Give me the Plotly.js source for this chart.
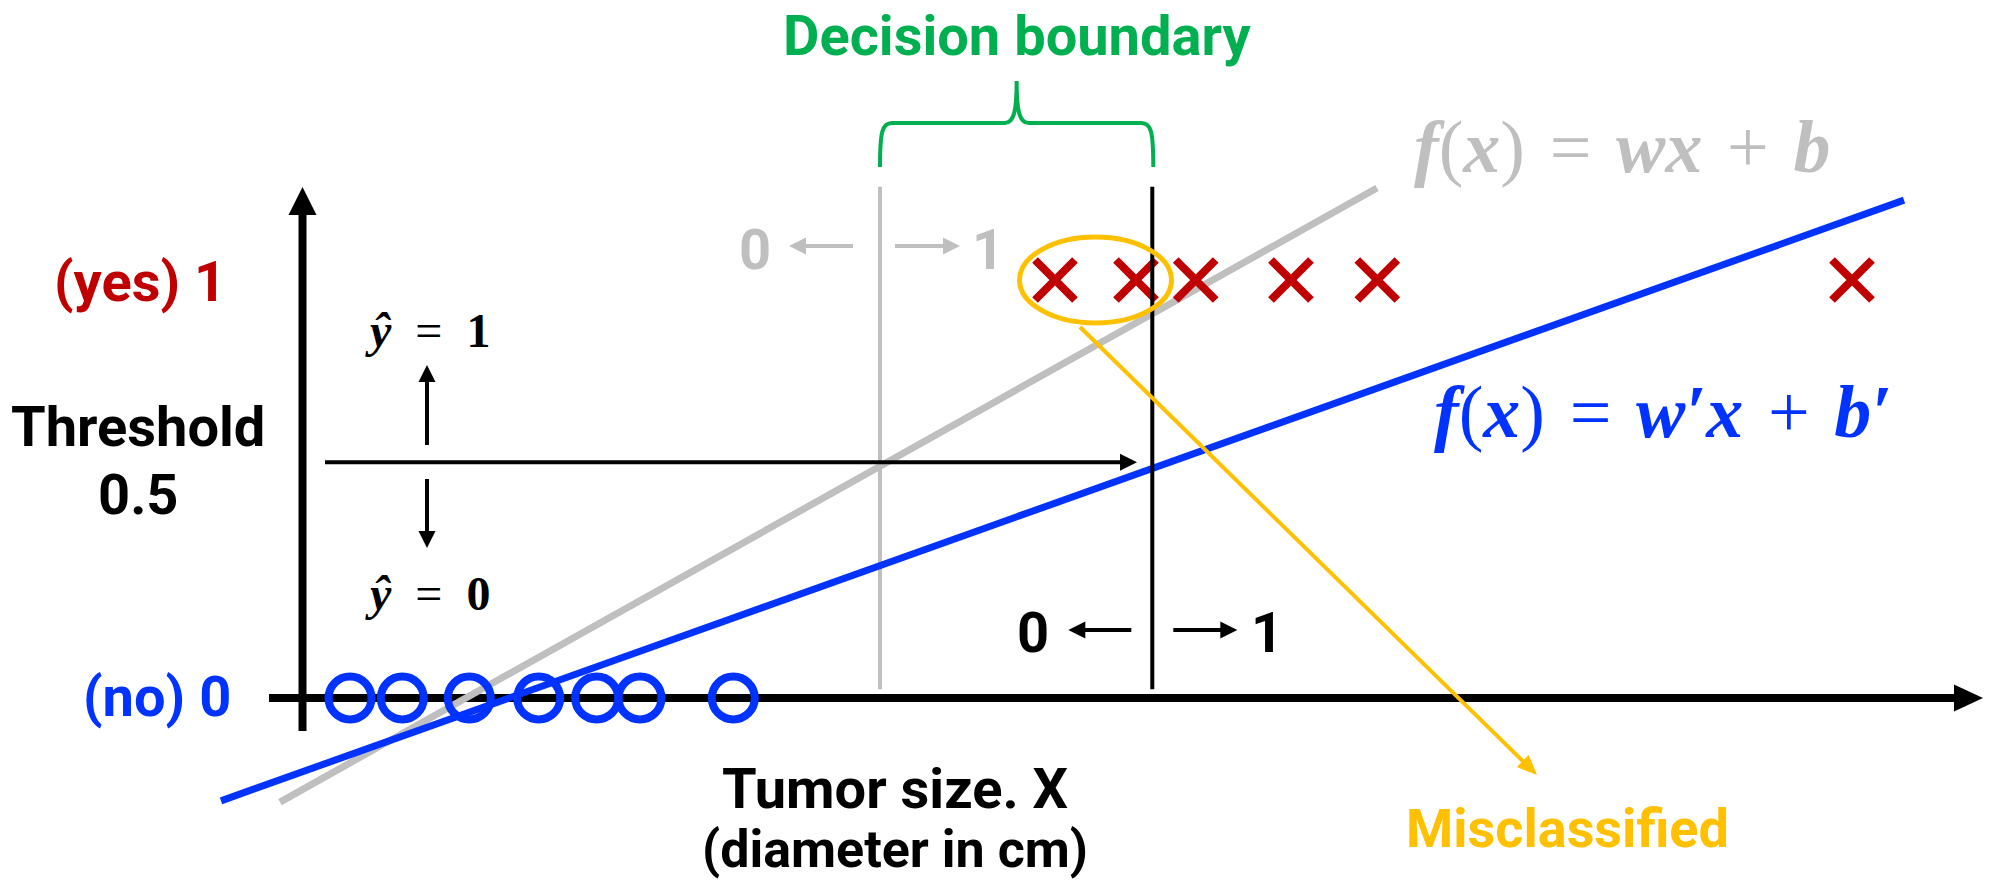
<!DOCTYPE html>
<html><head><meta charset="utf-8">
<script src="https://cdn.plot.ly/plotly-3.0.1.min.js"></script>
<style>html,body{margin:0;padding:0;background:#fff;overflow:hidden;}</style>
</head><body><div id="chart" style="width:1996px;height:881px;"></div>
<script>
// ---------------- data ----------------
const benignSize = [0.475, 0.998, 1.668, 2.362, 2.942, 3.375, 4.308];   // label 0 (no)
const benignLabel = [0, 0, 0, 0, 0, 0, 0];
const malignantSize = [7.525, 8.335, 8.932, 9.885, 10.748, 15.495];     // label 1 (yes)
const malignantLabel = [1, 1, 1, 1, 1, 1];
const fitX = [-0.225, 10.745];        // f(x) = wx + b  (gray)
const fitY = [-0.249, 1.220];
const fit2X = [-0.815, 16.015];       // f(x) = w'x + b' (blue)
const fit2Y = [-0.246, 1.191];
const threshold = 0.564;              // drawn threshold level
const boundaryX = [5.775, 8.498];     // decision boundaries: gray fit, blue fit
const boundarySpan = [0.021, 1.223];  // vertical extent of boundary lines
const misclassified = [7.525, 8.335]; // points inside the ellipse

// ---------------- helpers (pixel layout -> axis units) ----------------
const W = 1996, H = 881, X0 = 302.5, Y0 = 698, XU = 100, YU = 418;
const dx = p => (p - X0) / XU;
const dy = p => (Y0 - p) / YU;
const px = v => v * XU + X0;
const py = v => Y0 - v * YU;

const BLUE = '#0033FF', RED = '#C00000', GRAY = '#BFBFBF', GREEN = '#00B050', ORANGE = '#FFC000';

const shapes = [];
function arrow(x1, y1, x2, y2, color, width, hl, hw, layer) {
  const L = Math.hypot(x2 - x1, y2 - y1), ux = (x2 - x1) / L, uy = (y2 - y1) / L;
  const bx = x2 - ux * hl, by = y2 - uy * hl;
  shapes.push({type: 'line', layer: layer || 'above', x0: dx(x1), y0: dy(y1), x1: dx(bx + ux * 2), y1: dy(by + uy * 2),
    line: {color: color, width: width}});
  const p1 = [bx - uy * hw / 2, by + ux * hw / 2], p2 = [bx + uy * hw / 2, by - ux * hw / 2];
  shapes.push({type: 'path', layer: layer || 'above',
    path: `M${dx(x2)},${dy(y2)} L${dx(p1[0])},${dy(p1[1])} L${dx(p2[0])},${dy(p2[1])} Z`,
    fillcolor: color, line: {color: color, width: 0}});
}

// axes
arrow(X0, 731, X0, 187, '#000', 8, 28, 28, 'below');
arrow(269, Y0, 1983, Y0, '#000', 8, 29, 27, 'below');
// threshold line
arrow(325, py(threshold), 1137, py(threshold), '#000', 4, 17, 17);
arrow(427, 445, 427, 365, '#000', 4, 17, 17);
arrow(427, 479, 427, 548, '#000', 4, 17, 17);
// decision boundary vertical lines
shapes.push({type: 'line', layer: 'below', x0: boundaryX[0], x1: boundaryX[0], y0: boundarySpan[0], y1: boundarySpan[1], line: {color: GRAY, width: 4}});
shapes.push({type: 'line', layer: 'above', x0: boundaryX[1], x1: boundaryX[1], y0: boundarySpan[0], y1: boundarySpan[1], line: {color: '#000', width: 4}});
// side arrows at boundaries
const gx = px(boundaryX[0]), bxp = px(boundaryX[1]);
arrow(gx - 27, 246, gx - 91, 246, GRAY, 4, 17, 17);
arrow(gx + 15, 246, gx + 80, 246, GRAY, 4, 17, 17);
arrow(bxp - 21, 630, bxp - 84, 630, '#000', 4, 17, 17);
arrow(bxp + 21, 630, bxp + 85, 630, '#000', 4, 17, 17);
// brace
const bl = gx, br = bxp + 1, bm = (bl + br) / 2;
shapes.push({type: 'path', layer: 'above', line: {color: GREEN, width: 4},
  path: `M${dx(bl)},${dy(167)} C${dx(bl)},${dy(132)} ${dx(bl+2)},${dy(123)} ${dx(bl+12)},${dy(123)} ` +
        `L${dx(bm-12)},${dy(123)} C${dx(bm-3)},${dy(123)} ${dx(bm)},${dy(112)} ${dx(bm)},${dy(81)} ` +
        `C${dx(bm)},${dy(112)} ${dx(bm+3)},${dy(123)} ${dx(bm+12)},${dy(123)} ` +
        `L${dx(br-12)},${dy(123)} C${dx(br-2)},${dy(123)} ${dx(br)},${dy(132)} ${dx(br)},${dy(167)}`});
// misclassified ellipse + pointer
const mc = (px(misclassified[0]) + px(misclassified[1])) / 2;
shapes.push({type: 'circle', layer: 'above', x0: dx(mc - 76), x1: dx(mc + 76), y0: dy(py(1) + 43), y1: dy(py(1) - 43),
  line: {color: ORANGE, width: 5}});
arrow(1080, 327, 1537, 775, ORANGE, 4, 20, 17);

// ---------------- traces ----------------
const traces = [
  {x: fitX, y: fitY, mode: 'lines', line: {color: GRAY, width: 7}, hoverinfo: 'skip'},
  {x: fit2X, y: fit2Y, mode: 'lines', line: {color: BLUE, width: 7}, hoverinfo: 'skip'},
  {x: benignSize, y: benignLabel, mode: 'markers',
   marker: {symbol: 'circle-open', size: 43, color: BLUE, line: {color: BLUE, width: 8}}},
  {x: malignantSize, y: malignantLabel, mode: 'markers',
   marker: {symbol: 'x-thin-open', size: 40, color: RED, line: {color: RED, width: 8}}}
];

// ---------------- text ----------------
const LF = 'Roboto, "Noto Sans", sans-serif';
const MF = '"Liberation Serif", "DejaVu Serif", serif';
function txt(text, xp, yp, size, color, family, weight) {
  return {text: text, xref: 'paper', yref: 'paper', x: xp / W, y: 1 - yp / H,
    xanchor: 'center', yanchor: 'middle', showarrow: false,
    font: {family: family || LF, size: size, color: color, weight: weight || 700}};
}
const S = ' \u200A';
const bi = s => '<b><i>' + s + '</i></b>';
const annotations = [
  txt('Decision boundary', 1017, 36, 56, GREEN),
  txt('(yes) 1', 140, 282, 56, RED),
  txt('Threshold', 138, 427, 56, '#000'),
  txt('0.5', 138, 495, 56, '#000'),
  txt('(no) 0', 157, 697, 56, BLUE),
  txt(bi('ŷ') + '\u2002=\u2002<b>1</b>', 427, 330, 48, '#000', MF, 400),
  txt(bi('ŷ') + '\u2002=\u2002<b>0</b>', 427, 593, 48, '#000', MF, 400),
  txt('0', gx - 125, 250, 56, GRAY),
  txt('1', gx + 108, 250, 56, GRAY),
  txt('0', bxp - 119, 633, 56, '#000'),
  txt('1', bxp + 115, 633, 56, '#000'),
  txt(bi('f') + '(' + bi('x') + ')' + S + '=' + S + bi('wx') + S + '+' + S + bi('b'), 1622, 147, 74, GRAY, MF, 400),
  txt(bi('f') + '(' + bi('x') + ')' + S + '=' + S + bi('w\u2032x') + S + '+' + S + bi('b\u2032'), 1663, 412, 74, BLUE, MF, 400),
  txt('Tumor size. X', 895, 789, 56, '#000'),
  txt('(diameter in cm)', 895, 849, 52, '#000'),
  txt('Misclassified', 1567, 828, 54, ORANGE)
];

const layout = {
  width: W, height: H, margin: {l: 0, r: 0, t: 0, b: 0, pad: 0},
  paper_bgcolor: '#fff', plot_bgcolor: '#fff', showlegend: false,
  xaxis: {range: [dx(0), dx(W)], visible: false, fixedrange: true},
  yaxis: {range: [dy(H), dy(0)], visible: false, fixedrange: true},
  shapes: shapes, annotations: annotations
};
Plotly.newPlot('chart', traces, layout, {staticPlot: true, displayModeBar: false});
</script></body></html>
